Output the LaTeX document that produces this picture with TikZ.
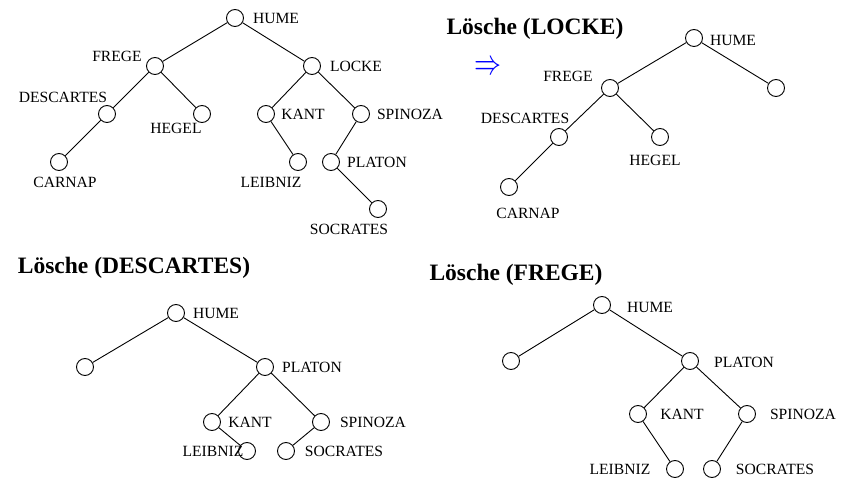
\documentclass[tikz,border=0pt]{standalone}
\usepackage{graphicx}
\usepackage{fontspec}
\setmainfont{Liberation Serif}
\begin{document}
\begin{tikzpicture}[x=1pt,y=-1pt,
  knot/.style={circle,draw,line width=0.9pt,minimum size=17pt,inner sep=0pt},
  lbl/.style={font=\fontsize{15.6}{17}\selectfont,inner sep=0pt},
  ttl/.style={font=\fontsize{23.5}{26}\selectfont\bfseries,inner sep=0pt},
  link/.style={line width=0.9pt}]
\useasboundingbox (0,0) rectangle (846,486);

% ---------- initial tree ----------
\node[knot] (t1hume) at (235,18) {};
\node[knot] (t1frege) at (155,66) {};
\node[knot] (t1locke) at (312,66) {};
\node[knot] (t1desc) at (107,114) {};
\node[knot] (t1hegel) at (202,114) {};
\node[knot] (t1kant) at (266,114) {};
\node[knot] (t1spin) at (361,114) {};
\node[knot] (t1carn) at (59,162) {};
\node[knot] (t1leib) at (298,162) {};
\node[knot] (t1plat) at (331,162) {};
\node[knot] (t1socr) at (378,209) {};
\draw[link] (t1hume)--(t1frege) (t1hume)--(t1locke)
  (t1frege)--(t1desc) (t1frege)--(t1hegel) (t1desc)--(t1carn)
  (t1locke)--(t1kant) (t1locke)--(t1spin) (t1kant)--(t1leib)
  (t1spin)--(t1plat) (t1plat)--(t1socr);
\node[lbl] (t1humel) at (276,18) {HUME};
\node[lbl] (t1fregel) at (117,56) {FREGE};
\node[lbl] (t1lockel) at (356,66) {LOCKE};
\node[lbl] (t1descl) at (63,97) {DESCARTES};
\node[lbl] (t1hegell) at (176,128) {HEGEL};
\node[lbl] (t1kantl) at (303,114) {KANT};
\node[lbl] (t1spinl) at (410,114) {SPINOZA};
\node[lbl] (t1carnl) at (65,182) {CARNAP};
\node[lbl] (t1leibl) at (271,182) {LEIBNIZ};
\node[lbl] (t1platl) at (377,162) {PLATON};
\node[lbl] (t1socrl) at (349,229) {SOCRATES};

% ---------- after deleting LOCKE ----------
\node[ttl] (t2title) at (535,29) {Lösche (LOCKE)};
\node[inner sep=0pt,text=blue] (t2arrow) at (488,68)
  {\resizebox{27pt}{13pt}{$\Rightarrow$}};
\node[knot] (t2hume) at (694,38) {};
\node[knot] (t2frege) at (610,88) {};
\node[knot] (t2right) at (776,88) {};
\node[knot] (t2desc) at (559,137) {};
\node[knot] (t2hegel) at (660,137) {};
\node[knot] (t2carn) at (509,187) {};
\draw[link] (t2hume)--(t2frege) (t2hume)--(t2right)
  (t2frege)--(t2desc) (t2frege)--(t2hegel) (t2desc)--(t2carn);
\node[lbl] (t2humel) at (733,40) {HUME};
\node[lbl] (t2fregel) at (568,76) {FREGE};
\node[lbl] (t2descl) at (525,118) {DESCARTES};
\node[lbl] (t2hegell) at (655,160) {HEGEL};
\node[lbl] (t2carnl) at (528,213) {CARNAP};

% ---------- after deleting DESCARTES ----------
\node[ttl] (t3title) at (134,268) {Lösche (DESCARTES)};
\node[knot] (t3hume) at (176,313) {};
\node[knot] (t3left) at (85,367) {};
\node[knot] (t3plat) at (265,367) {};
\node[knot] (t3kant) at (212,422) {};
\node[knot] (t3spin) at (321,422) {};
\node[knot] (t3leib) at (247,451) {};
\node[knot] (t3socr) at (286,451) {};
\draw[link] (t3hume)--(t3left) (t3hume)--(t3plat)
  (t3plat)--(t3kant) (t3plat)--(t3spin)
  (t3kant)--(t3leib) (t3spin)--(t3socr);
\node[lbl] (t3humel) at (216,313) {HUME};
\node[lbl] (t3platl) at (312,367) {PLATON};
\node[lbl] (t3kantl) at (250,422) {KANT};
\node[lbl] (t3spinl) at (373,422) {SPINOZA};
\node[lbl] (t3leibl) at (213,451) {LEIBNIZ};
\node[lbl] (t3socrl) at (344,451) {SOCRATES};

% ---------- after deleting FREGE ----------
\node[ttl] (t4title) at (516,275) {Lösche (FREGE)};
\node[knot] (t4hume) at (602,305) {};
\node[knot] (t4left) at (511,361) {};
\node[knot] (t4plat) at (690,361) {};
\node[knot] (t4kant) at (638,414) {};
\node[knot] (t4spin) at (747,414) {};
\node[knot] (t4leib) at (675,469) {};
\node[knot] (t4socr) at (712,469) {};
\draw[link] (t4hume)--(t4left) (t4hume)--(t4plat)
  (t4plat)--(t4kant) (t4plat)--(t4spin)
  (t4kant)--(t4leib) (t4spin)--(t4socr);
\node[lbl] (t4humel) at (650,307) {HUME};
\node[lbl] (t4platl) at (744,362) {PLATON};
\node[lbl] (t4kantl) at (682,414) {KANT};
\node[lbl] (t4spinl) at (803,414) {SPINOZA};
\node[lbl] (t4leibl) at (620,469) {LEIBNIZ};
\node[lbl] (t4socrl) at (775,469) {SOCRATES};
\end{tikzpicture}
\end{document}
